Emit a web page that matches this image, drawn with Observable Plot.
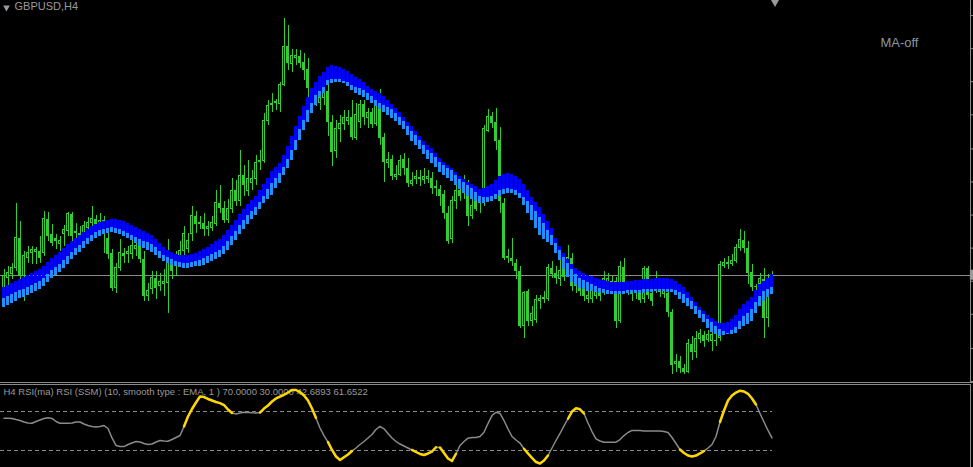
<!DOCTYPE html>
<html><head><meta charset="utf-8">
<script src="https://cdn.jsdelivr.net/npm/d3@7"></script>
<script src="https://cdn.jsdelivr.net/npm/@observablehq/plot@0.6"></script>
<style>
html,body{margin:0;padding:0;background:#000;}
#wrap{position:relative;width:973px;height:467px;background:#000;overflow:hidden;}
#main{position:absolute;left:0;top:0;}
#rsi{position:absolute;left:0;top:385px;}
.sep{position:absolute;left:0;width:973px;height:1px;background:#8a8a8a;}
svg{display:block;}
</style>
</head><body>
<div id="wrap">
  <div id="main"></div>
  <div class="sep" style="top:382px"></div>
  <div class="sep" style="top:384px;width:971px"></div>
  <div id="rsi"></div>
</div>
<script>
// ---- data (prices in pips, RSI in %) ----
const symbolTitle = "GBPUSD,H4";
const maStatus = "MA-off";
const rsiTitle = "H4 RSI(ma) RSI (SSM) (10, smooth type : EMA, 1 ) 70.0000 30.0000 42.6893 61.6522";

const openP = [94,104,108,114,144,106,124,129,130,131,
129,163,148,144,138,148,151,168,151,149,
143,154,159,163,156,149,144,129,94,114,
129,128,128,133,136,123,86,93,104,96,
98,99,119,116,119,131,133,148,166,160,
159,153,154,158,179,174,162,173,191,181,
206,191,199,203,220,221,261,277,279,278,
297,335,318,324,325,319,312,281,286,279,
284,290,259,231,253,258,261,264,244,260,
277,264,269,258,274,244,219,222,205,207,
222,213,198,203,203,202,203,203,195,192,
188,169,143,181,191,189,196,166,183,183,
181,251,265,259,241,179,124,124,119,111,
56,91,61,62,81,83,83,114,109,103,
113,115,124,104,99,96,83,83,86,92,
91,99,101,101,61,115,96,93,89,91,
83,114,89,91,96,88,89,70,18,21,
14,10,38,30,43,47,42,41,42,44,
116,118,118,121,134,142,134,110,96,98,
103,64,106];
const closeP = [106,109,114,144,106,126,129,132,132,124,
163,146,139,141,141,152,168,146,149,141,
156,159,163,158,161,161,128,94,114,129,
126,130,136,136,123,86,91,104,94,100,
100,129,111,121,131,148,141,166,158,158,
153,155,159,179,174,162,173,191,181,206,
196,203,203,219,221,261,276,278,280,297,
335,318,326,326,318,311,293,286,279,284,
296,259,229,253,258,264,264,244,267,277,
264,269,257,276,243,219,222,205,207,221,
213,198,201,205,204,205,205,193,193,186,
169,141,181,191,186,196,166,176,173,181,
253,265,258,240,181,124,125,121,111,56,
89,61,68,82,83,84,114,108,104,111,
105,124,96,96,91,86,86,93,92,86,
103,103,98,61,115,98,91,88,93,82,
113,87,81,96,90,91,70,17,20,14,
10,38,30,43,48,41,47,47,41,117,
119,119,121,134,142,134,109,95,95,103,
64,93,107];
const highP = [113,116,119,179,161,131,136,136,135,146,
171,170,158,148,146,157,170,170,159,156,
161,165,176,167,169,166,149,133,119,143,
134,136,143,141,141,131,99,111,111,109,
113,143,126,131,141,156,149,176,171,166,
169,161,166,191,196,181,183,203,201,231,
216,221,211,226,231,268,281,288,282,299,
363,356,332,332,331,328,323,291,296,289,
301,301,266,261,266,271,271,281,278,281,
281,273,273,283,292,248,229,226,216,226,
228,223,209,211,211,213,211,209,201,196,
191,176,186,196,201,206,201,183,189,189,
256,272,269,273,254,184,133,144,123,116,
91,93,76,87,87,91,118,121,116,133,
119,137,129,109,105,101,93,99,98,97,
111,109,106,105,121,124,101,97,99,96,
116,116,96,111,101,96,93,73,28,26,
18,43,46,51,53,51,52,54,48,121,
124,126,128,138,153,151,141,118,98,109,
114,108,111];
const lowP = [91,96,103,111,103,81,119,118,118,119,
126,141,136,133,131,136,146,141,141,136,
139,146,153,151,149,129,123,91,89,111,
119,119,123,126,119,81,81,88,83,91,
86,69,103,106,115,121,129,141,149,153,
146,146,151,156,169,159,159,169,176,176,
186,186,191,196,211,218,256,269,271,269,
295,311,309,316,313,301,281,273,275,271,
276,245,215,223,239,251,256,241,241,253,
256,253,253,255,236,199,213,201,201,205,
206,194,195,197,195,197,198,188,186,176,
163,138,139,173,181,183,156,163,171,169,
176,249,253,231,169,122,119,116,103,54,
44,56,56,59,73,79,81,104,98,96,
101,111,91,89,86,81,79,79,83,81,
87,91,91,54,59,93,87,81,83,79,
79,83,76,89,85,84,65,8,10,9,
8,9,22,24,39,35,40,31,36,41,
114,113,116,119,131,129,98,91,91,93,
44,55,103];

// moving-average band: upper edge, split level, lower edge
const bandTop = [95,97,99,101,103,105,107,109,111,113,
116,120,124,127,130,134,138,141,144,147,
150,153,156,158,160,161,162,163,163,162,
161,159,157,155,153,151,149,147,143,139,
135,132,130,128,127,127,127,128,129,131,
133,135,138,141,143,147,152,157,162,168,
173,178,182,186,191,197,203,210,214,218,
226,235,245,255,265,275,284,293,299,305,
309,314,316,315,314,312,310,307,304,302,
299,295,292,290,288,285,281,277,273,269,
264,259,255,250,245,240,236,233,228,223,
219,216,213,209,205,202,199,197,195,192,
193,195,197,201,205,207,208,207,205,202,
197,191,185,180,175,168,161,154,144,136,
129,123,118,114,111,109,107,106,104,103,
102,101,100,100,100,100,101,101,102,102,
103,103,103,104,104,104,104,103,101,98,
95,90,85,80,75,71,67,64,61,59,
59,60,63,67,73,78,81,85,92,98,
101,104,108];
const bandMid = [84,86,88,90,92,93,95,97,99,101,
104,108,112,115,118,122,126,130,134,137,
141,144,147,150,152,153,154,155,154,153,
151,149,147,145,143,141,140,138,135,131,
127,125,123,121,120,119,119,120,121,122,
124,126,128,130,132,136,141,146,151,157,
162,167,171,175,180,186,192,198,203,208,
214,222,231,241,252,261,271,278,286,290,
294,301,302,302,302,300,299,296,294,293,
291,288,285,281,278,276,274,272,268,264,
260,255,250,246,241,236,231,228,224,219,
216,213,211,206,202,199,196,193,190,186,
185,185,186,188,191,192,193,192,191,189,
185,181,177,171,165,159,152,147,139,132,
125,119,113,108,104,102,100,98,96,94,
93,92,91,91,91,91,92,92,92,92,
93,93,93,93,93,93,93,93,92,90,
88,84,81,76,72,68,63,60,56,53,
51,49,52,55,61,66,69,73,80,86,
91,93,95];
const bandBot = [75,77,79,81,84,85,87,89,91,93,
96,100,104,107,110,114,118,123,127,130,
134,138,141,144,146,148,149,150,149,148,
146,144,142,139,136,134,132,130,127,124,
121,119,117,116,115,114,114,115,116,116,
117,119,121,123,125,128,132,137,142,148,
153,158,163,167,173,179,183,187,193,198,
206,213,221,231,241,251,259,268,276,284,
288,296,298,299,299,298,295,291,288,286,
284,281,278,275,272,269,266,263,260,256,
252,246,240,236,232,227,222,218,214,209,
206,203,200,196,192,189,186,183,181,179,
179,180,181,183,186,188,189,189,187,184,
177,169,162,154,147,143,140,137,129,122,
113,105,100,97,94,93,91,91,90,89,
89,88,88,88,88,88,89,89,89,89,
89,90,90,91,91,91,90,90,87,83,
79,76,73,68,64,60,54,50,48,46,
47,48,48,49,53,56,58,61,69,76,
81,85,88];

const rsiValues = [62.9,62.9,62.6,61.5,60.5,59.0,58.0,57.7,59.5,61.0,
62.6,63.3,62.6,59.5,57.7,57.7,57.7,57.9,59.0,59.0,
56.9,55.4,54.4,53.8,54.4,55.4,52.3,42.6,34.9,33.8,
33.8,35.9,37.4,39.0,38.5,36.9,35.9,36.4,38.5,40.0,
39.5,39.3,41.0,43.1,45.1,54.4,64.6,72.3,79.0,85.1,
84.6,82.6,81.0,79.5,78.3,76.4,71.8,68.2,67.2,68.2,
69.0,68.7,68.4,68.2,68.7,72.8,75.9,80.0,83.1,85.1,
86.9,89.2,91.8,91.8,89.7,86.2,81.0,72.8,63.1,52.8,
45.1,38.3,30.3,23.6,20.0,22.9,25.6,29.2,32.3,35.9,
39.0,42.6,46.2,51.3,54.4,52.0,47.2,42.6,39.0,36.4,
34.4,32.3,30.3,28.2,26.2,25.1,26.7,28.7,33.1,32.8,
27.2,21.5,19.0,26.4,34.9,39.0,42.4,43.1,43.1,44.1,
48.5,57.4,65.6,69.0,67.7,60.5,51.8,44.1,40.5,37.4,
31.5,26.7,22.1,17.9,16.4,19.5,24.6,32.3,40.0,47.2,
54.9,62.3,69.7,73.1,72.0,67.7,57.9,49.2,41.7,39.5,
38.3,38.2,38.2,38.3,41.0,45.1,48.2,50.3,50.3,50.3,
49.7,49.7,49.7,49.7,49.7,49.2,48.2,43.1,36.9,30.8,
27.2,24.6,23.6,24.6,26.7,29.2,32.3,35.9,44.1,59.0,
70.8,81.0,86.2,89.2,91.1,90.3,87.9,83.1,76.9,67.7,
59.0,50.3,42.7];
// bar index ranges where the RSI line is highlighted
const rsiHighlight = [[45,57],[64,78],[81,87],[102,108],[109,113],[130,136],[141,145],[169,175],[179,188]];
const rsiLevels = [70, 30];
const priceTicks = [1,34,68,101,134,167,200,233,267,300,333,366];

// ---- build ----
const n = openP.length;
const candles = d3.range(n).map(i => ({i, o: openP[i], c: closeP[i], h: highP[i], l: lowP[i]}));
const bull = candles.filter(d => d.c >= d.o);
const bear = candles.filter(d => d.c < d.o);
const band = d3.range(n).map(i => ({i, top: bandTop[i], mid: bandMid[i], bot: bandBot[i]}));
const lastClose = closeP[n - 1];
const rsi = rsiValues.map((v, i) => ({i, v}));
const hi = rsiHighlight.flatMap(([a, b], s) => d3.range(a, b + 1).map(i => ({i, v: rsiValues[i], seg: s})));

const xDomain = [-0.875, 241.625];
const green = "#32cd32";
const axisGrey = "#8a8a8a";

const main = Plot.plot({
  width: 973, height: 382,
  marginTop: 0, marginBottom: 0, marginLeft: 0, marginRight: 3,
  style: {background: "#000", overflow: "visible"},
  x: {domain: xDomain, axis: null},
  y: {domain: [0, 381], axis: null},
  marks: [
    Plot.ruleY([lastClose], {stroke: "#8a8a8a", shapeRendering: "crispEdges"}),
    Plot.ruleX(candles, {x: "i", y1: "l", y2: "h", stroke: green, shapeRendering: "crispEdges"}),
    Plot.rect(bear, {x1: d => d.i - 0.375, x2: d => d.i + 0.375, y1: "o", y2: "c", fill: green, shapeRendering: "crispEdges"}),
    Plot.rect(bull, {x1: d => d.i - 0.25, x2: d => d.i + 0.25, y1: "o", y2: "c", fill: "#000", stroke: green, shapeRendering: "crispEdges"}),
    Plot.rect(band, {x1: d => d.i - 0.375, x2: d => d.i + 0.375, y1: "bot", y2: "mid", fill: "#1e90ff", shapeRendering: "crispEdges"}),
    Plot.rect(band, {x1: d => d.i - 0.375, x2: d => d.i + 0.375, y1: "mid", y2: "top", fill: "#0000ff", shapeRendering: "crispEdges"}),
    Plot.ruleX([241.5], {stroke: axisGrey, shapeRendering: "crispEdges"}),
    Plot.axisY(priceTicks, {anchor: "right", tickSize: 3, tickFormat: () => "", label: null, stroke: axisGrey}),
    Plot.rect([lastClose], {x1: 241.6, x2: 242.4, y1: d => d - 5, y2: d => d + 5, fill: "#9a9a9a", clip: false}),
    Plot.dot([n - 0.25], {x: d => d, frameAnchor: "top", dy: 1, symbol: "triangle", rotate: 180, r: 3.5, fill: "#9a9a9a", stroke: null}),
    Plot.dot([0], {frameAnchor: "top-left", dx: 6, dy: 7, symbol: "triangle", rotate: 180, r: 2.5, fill: "#9a9a9a", stroke: null}),
    Plot.text([symbolTitle], {frameAnchor: "top-left", dx: 14, dy: 2, textAnchor: "start", lineAnchor: "top", fill: "#9a9a9a", fontSize: 11, fontFamily: "Liberation Sans, Arial, sans-serif"}),
    Plot.text([maStatus], {frameAnchor: "top-right", dx: -52, dy: 37, textAnchor: "end", lineAnchor: "top", fill: "#8a96a3", fontSize: 13, fontFamily: "Liberation Sans, Arial, sans-serif"})
  ]
});
document.getElementById("main").appendChild(main);

const rsiChart = Plot.plot({
  width: 973, height: 82,
  marginTop: 0, marginBottom: 0, marginLeft: 0, marginRight: 3,
  style: {background: "#000", overflow: "visible"},
  x: {domain: xDomain, axis: null},
  y: {domain: [0, 100], range: [94, -3.5], axis: null},
  marks: [
    Plot.ruleY(rsiLevels, {x1: xDomain[0], x2: n - 1, stroke: "#8a8a8a", strokeDasharray: "4,3", shapeRendering: "crispEdges"}),
    Plot.text([rsiTitle], {frameAnchor: "top-left", dx: 3, dy: 3, textAnchor: "start", lineAnchor: "top", fill: "#9a9a9a", fontSize: 9.5, fontFamily: "Liberation Sans, Arial, sans-serif"}),
    Plot.line(rsi, {x: "i", y: "v", stroke: "#8a8a8a", strokeWidth: 1.5, curve: "linear"}),
    Plot.line(hi, {x: "i", y: "v", z: "seg", stroke: "#ffd700", strokeWidth: 2.5, curve: "linear"}),
    Plot.ruleX([241.5], {stroke: axisGrey, shapeRendering: "crispEdges"})
  ]
});
document.getElementById("rsi").appendChild(rsiChart);
</script>
</body></html>
